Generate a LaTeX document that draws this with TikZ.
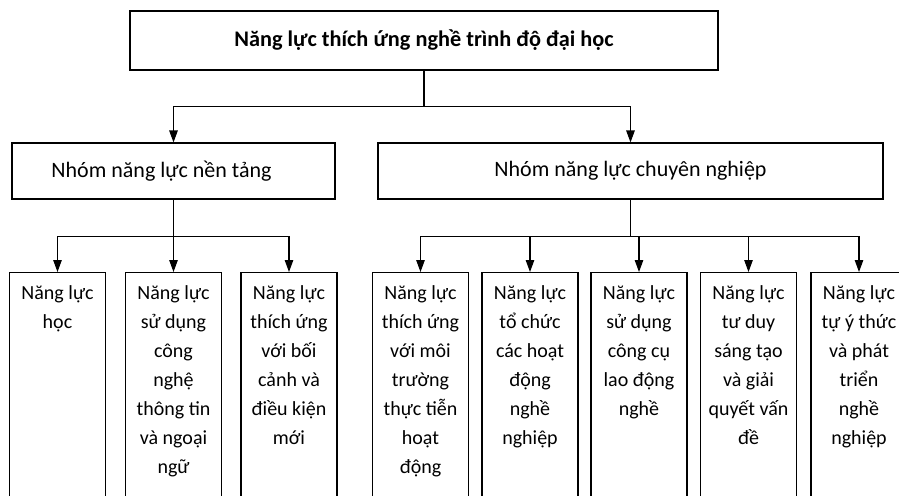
\documentclass[tikz,border=0pt]{standalone}
\usepackage{fontspec}
\setmainfont{Carlito}
\usetikzlibrary{arrows.meta}
\newcommand{\leaftext}[1]{\parbox[t][232pt][t]{92pt}{\centering #1}}

\begin{document}
\begin{tikzpicture}[x=1pt, y=-1pt, line width=1.1pt, >={Triangle[length=12pt,width=8.5pt]},
    font=\fontsize{20}{29}\selectfont,
    main box/.style={draw, minimum height=59, font=\fontsize{22.3}{29}\selectfont\bfseries},
    group box/.style={draw, minimum height=56, font=\fontsize{22}{29}\selectfont},
    leaf box/.style={draw, anchor=north, inner xsep=2pt, inner ysep=13pt}]

    \useasboundingbox (0,0) rectangle (899,495);
    \clip (0,0) rectangle (899,495);

    \node[main box, minimum width=588] at (424, 40.5) (root) {Năng lực thích ứng nghề trình độ đại học};
    \node[group box, minimum width=323] at (173.5, 171) (base) {\hspace*{-24pt}Nhóm năng lực nền tảng};
    \node[group box, minimum width=505] at (630.5, 171) (pro) {Nhóm năng lực chuyên nghiệp};

    \node[leaf box] at (57.5, 272) (l1) {\leaftext{Năng lực\\học}};
    \node[leaf box] at (173.5, 272) (l2) {\leaftext{Năng lực\\sử dụng\\công\\nghệ\\thông tin\\và ngoại\\ngữ}};
    \node[leaf box] at (289, 272) (l3) {\leaftext{Năng lực\\thích ứng\\với bối\\cảnh và\\điều kiện\\mới}};
    \node[leaf box] at (420.5, 272) (l4) {\leaftext{Năng lực\\thích ứng\\với môi\\trường\\thực tiễn\\hoạt\\động}};
    \node[leaf box] at (530, 272) (l5) {\leaftext{Năng lực\\tổ chức\\các hoạt\\động\\nghề\\nghiệp}};
    \node[leaf box] at (639, 272) (l6) {\leaftext{Năng lực\\sử dụng\\công cụ\\lao động\\nghề}};
    \node[leaf box] at (748.5, 272) (l7) {\leaftext{Năng lực\\tư duy\\sáng tạo\\và giải\\quyết vấn\\đề}};
    \node[leaf box] at (859, 272) (l8) {\leaftext{Năng lực\\tự ý thức\\và phát\\triển\\nghề\\nghiệp}};

    \draw[->] (root.south) -- ++(0,36) -| (base.north);
    \draw[->] (root.south) -- ++(0,36) -| (pro.north);

    \foreach \n in {l1,l2,l3}
        \draw[->] (base.south) -- ++(0,37) -| (\n.north);
    \foreach \n in {l4,l5,l6,l7,l8}
        \draw[->] (pro.south) -- ++(0,37) -| (\n.north);

\end{tikzpicture}
\end{document}
